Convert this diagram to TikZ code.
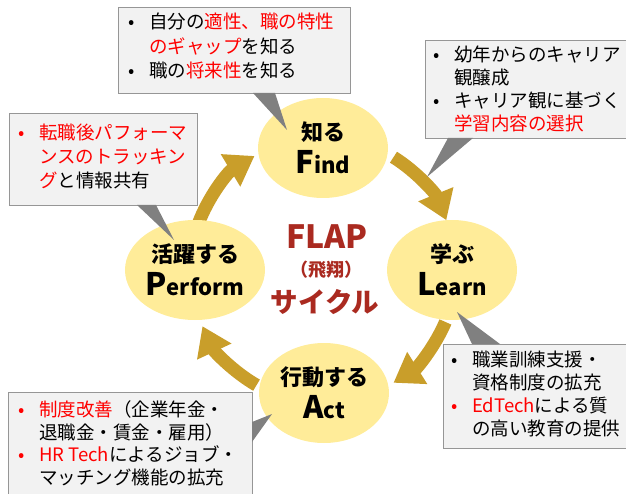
\documentclass[tikz,border=0pt]{standalone}
\usepackage{fontspec}
\setmainfont{Noto Sans CJK JP}
\usetikzlibrary{shapes.geometric,arrows.meta}
\definecolor{ellfill}{RGB}{255,236,153}
\definecolor{cycgold}{RGB}{201,158,42}
\definecolor{boxfill}{RGB}{242,242,242}
\definecolor{boxline}{RGB}{150,150,150}
\definecolor{ptrgray}{RGB}{128,128,128}
\definecolor{flapred}{RGB}{170,42,32}
\definecolor{hlred}{RGB}{255,0,0}
\newcommand\blt{\makebox[21pt][l]{•}}
\newcommand\contind{\hspace*{21pt}}
\newcommand\redt[1]{\textcolor{hlred}{#1}}
\newcommand\bigini[1]{{\fontsize{31}{33}\selectfont #1}}
\begin{document}
\begin{tikzpicture}[x=1pt,y=-1pt,
  callout/.style={draw=boxline, fill=boxfill, line width=1pt, inner sep=0, anchor=north west},
  ptr/.style={fill=ptrgray},
  stage/.style={ellipse, fill=ellfill, inner sep=0, minimum width=130pt, minimum height=100pt, align=center, font=\bfseries\fontsize{22}{33}\selectfont},
  cyc/.style={draw=cycgold, line width=13pt, -{Triangle[width=36pt,length=28pt]}},
  txt/.style={anchor=base west, inner sep=0, align=left, font=\fontsize{18.5}{23.5}\selectfont},
  ctr/.style={text=flapred, inner sep=0}
]
\useasboundingbox (0,0) rectangle (626,494);
\clip (0,0) rectangle (626,494);

% cycle arrows
\coordinate (C) at (323,270);
\draw[cyc] (C) ++(200:133) arc[start angle=200, end angle=239, radius=133];
\draw[cyc] (C) ++(302:133) arc[start angle=302, end angle=338, radius=133];
\draw[cyc] (C) ++(23:133) arc[start angle=23, end angle=58, radius=133];
\draw[cyc] (C) ++(120:133) arc[start angle=120, end angle=155, radius=133];

% stages
\node[stage] (find) at (323,148) {知る\\\bigini{F}ind};
\node[stage] (learn) at (452,270) {学ぶ\\\bigini{L}earn};
\node[stage] (perform) at (195,270) {活躍する\\\bigini{P}erform};
\node[stage] (act) at (324,393) {行動する\\\bigini{A}ct};

% centre title
\node[ctr, font=\bfseries\fontsize{32}{32}\selectfont] (flap) at (327,237) {FLAP};
\node[ctr, font=\bfseries\fontsize{18}{18}\selectfont] (hisho) at (326,270) {（飛翔）};
\node[ctr, font=\bfseries\fontsize{27.5}{28}\selectfont] (cycle) at (325,302) {サイクル};

% callout boxes
\node[callout, minimum width=232pt, minimum height=86pt] (box1) at (118,7) {};
\node[callout, minimum width=215pt, minimum height=98pt] (box2) at (425,40) {};
\node[callout, minimum width=188pt, minimum height=92pt] (box3) at (9,113) {};
\node[callout, minimum width=200pt, minimum height=104pt] (box4) at (443,344) {};
\node[callout, minimum width=244pt, minimum height=110pt] (box5) at (8,392) {};

% pointers
\coordinate (t1) at (287,130);
\coordinate (t2) at (427,177);
\coordinate (t3) at (174,240);
\coordinate (t4) at (457,312);
\coordinate (t5) at (272,414);
\fill[ptr] (253,93) -- (275,93) -- (t1) -- cycle;
\fill[ptr] (448,138) -- (473,138) -- (t2) -- cycle;
\fill[ptr] (137,205) -- (156,205) -- (t3) -- cycle;
\fill[ptr] (472,344) -- (500,344) -- (t4) -- cycle;
\fill[ptr] (252,422) -- (252,442) -- (t5) -- cycle;

% callout texts (anchored at the baseline of the last line)
\node[txt, font=\fontsize{18.5}{24.5}\selectfont] (text1) at (128,78)
  {\blt 自分の\redt{適性、職の特性}\\\contind\redt{のギャップ}を知る\\\blt 職の\redt{将来性}を知る};
\node[txt, font=\fontsize{18.5}{23}\selectfont] (text2) at (433,131)
  {\blt 幼年からのキャリア\\\contind 観醸成\\\blt キャリア観に基づく\\\contind\redt{学習内容の選択}};
\node[txt, font=\fontsize{18.5}{24}\selectfont] (text3) at (18,188)
  {\redt{\blt 転職後パフォーマ}\\\contind\redt{ンスのトラッキン}\\\contind\redt{グ}と情報共有};
\node[txt, font=\fontsize{18.5}{22.7}\selectfont] (text4) at (451,435)
  {\blt 職業訓練支援・\\\contind 資格制度の拡充\\\redt{\blt EdTech}による質\\\contind の高い教育の提供};
\node[txt, font=\fontsize{18.5}{22.4}\selectfont] (text5) at (18,484)
  {\redt{\blt 制度改善}（企業年金・\\\contind 退職金・賃金・雇用）\\\redt{\blt HR Tech}によるジョブ・\\\contind マッチング機能の拡充};
\end{tikzpicture}
\end{document}
